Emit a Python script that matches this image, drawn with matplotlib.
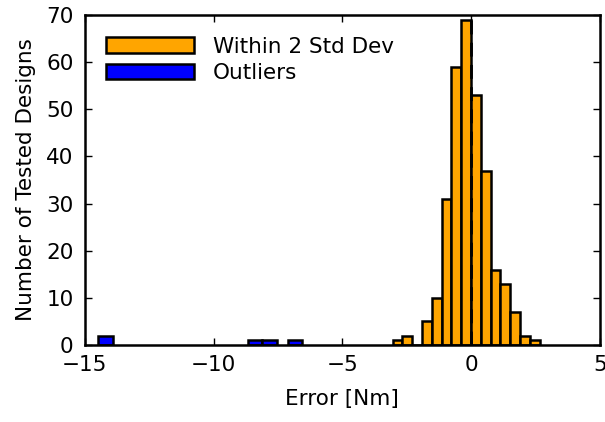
import matplotlib
matplotlib.use("Agg")
import matplotlib.pyplot as plt

# histogram counts
within_left = -3.05
within_width = 0.38
within_counts = [1, 2, 0, 5, 10, 31, 59, 69, 53, 37, 16, 13, 7, 2, 1]

outlier_left = [-14.49, -8.68, -8.12, -7.12]
outlier_width = 0.57
outlier_counts = [2, 1, 1, 1]

x_ticks = [-15, -10, -5, 0, 5]
y_ticks = [0, 10, 20, 30, 40, 50, 60, 70]

plt.rcParams['font.family'] = ['DejaVu Sans']
fs = 15.5

fig = plt.figure(figsize=(6.05, 4.22), dpi=100)
ax = fig.add_axes([0.14, 0.1825, 0.852, 0.782])

lefts = [within_left + i * within_width for i in range(len(within_counts))]
ax.bar(lefts, within_counts, width=within_width, align='edge',
       color='#FFA500', edgecolor='black', linewidth=1.8, label='Within 2 Std Dev')
ax.bar(outlier_left, outlier_counts, width=outlier_width, align='edge',
       color='#0000FF', edgecolor='black', linewidth=1.8, label='Outliers')

ax.axvline(0, color='black', linestyle='--', linewidth=2, dashes=(5, 3), zorder=3)

ax.set_xlim(-15, 5)
ax.set_ylim(0, 70)
ax.set_xticks(x_ticks)
ax.set_yticks(y_ticks)
ax.set_xticklabels(['\u221215', '\u221210', '\u22125', '0', '5'])
ax.tick_params(direction='in', top=True, right=True, length=5, width=1, labelsize=fs)
ax.tick_params(axis='x', pad=7)
ax.tick_params(axis='y', pad=8)
for s in ax.spines.values():
    s.set_linewidth(1.8)

ax.set_xlabel('Error [Nm]', fontsize=fs, labelpad=10)
ax.set_ylabel('Number of Tested Designs', fontsize=fs, labelpad=7)

ax.legend(loc='upper left', frameon=False, fontsize=fs, handlelength=4.1,
          handleheight=0.75, handletextpad=0.85, labelspacing=0.3,
          borderaxespad=0.4, borderpad=0.6)

fig.savefig('out.png', dpi=100)
